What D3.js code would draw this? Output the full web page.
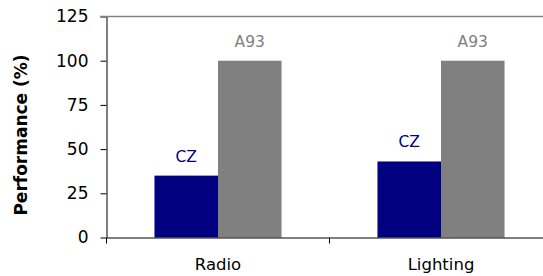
<!DOCTYPE html>
<html>
<head>
<meta charset="utf-8">
<script src="https://cdn.jsdelivr.net/npm/d3@7"></script>
<style>
  body { margin: 0; background: #fff; }
  svg { display: block; font-family: "DejaVu Sans", Verdana, sans-serif; }
</style>
</head>
<body>
<svg id="chart" width="543" height="276"></svg>
<script>
// values
var categories = ["Radio", "Lighting"];
var seriesNames = ["CZ", "A93"];
var czValues = [35, 43];
var a93Values = [100, 100];
var yTicks = [0, 25, 50, 75, 100, 125];

var colors = { CZ: "#000080", A93: "#808080" };
var font = "DejaVu Sans";

var rows = categories.map(function(c, i) {
  return { cat: c, vals: [
    { name: "CZ", v: czValues[i] },
    { name: "A93", v: a93Values[i] }
  ] };
});

var svg = d3.select("#chart");

var x0 = d3.scaleBand().domain(categories).range([106.5, 552.5]).paddingInner(0).paddingOuter(0);
var x1 = d3.scaleBand().domain(seriesNames).range([0, x0.bandwidth()]).paddingInner(0).paddingOuter(0.755);
var y = d3.scaleLinear().domain([0, 125]).range([237.5, 16.5]);

// bars
var groups = svg.append("g").selectAll("g")
  .data(rows)
  .enter().append("g")
  .attr("transform", function(d) { return "translate(" + x0(d.cat) + ",0)"; });

groups.selectAll("rect")
  .data(function(d) { return d.vals; })
  .enter().append("rect")
  .attr("x", function(d) { return x1(d.name); })
  .attr("y", function(d) { return y(d.v); })
  .attr("width", x1.bandwidth())
  .attr("height", function(d) { return y(0) - y(d.v); })
  .attr("fill", function(d) { return colors[d.name]; });

groups.selectAll("text")
  .data(function(d) { return d.vals; })
  .enter().append("text")
  .attr("x", function(d) { return x1(d.name) + x1.bandwidth() / 2; })
  .attr("y", function(d) { return y(d.v) - 14; })
  .attr("text-anchor", "middle")
  .attr("font-size", 15.5)
  .attr("fill", function(d) { return colors[d.name]; })
  .text(function(d) { return d.name; });

// y axis
var yAxis = svg.append("g")
  .attr("transform", "translate(106.5,0)")
  .call(d3.axisLeft(y).tickValues(yTicks).tickSize(6).tickSizeOuter(0).tickPadding(12));
yAxis.attr("font-family", font).attr("font-size", 17);
yAxis.selectAll("text").attr("fill", "#000");
yAxis.selectAll("line, path").attr("stroke", "#000");

// top line at 125
svg.append("line")
  .attr("x1", 100).attr("x2", 552)
  .attr("y1", y(125)).attr("y2", y(125))
  .attr("stroke", "#808080").attr("stroke-width", 1.5);

// x axis
var xAxis = svg.append("g")
  .attr("transform", "translate(0,237.5)")
  .call(d3.axisBottom(x0).tickSize(0).tickSizeOuter(0).tickPadding(0));
xAxis.attr("font-family", font).attr("font-size", 16.5);
xAxis.select(".domain").attr("stroke", "#000");
xAxis.selectAll("text")
  .attr("fill", "#000")
  .attr("dy", null).attr("y", 32);

// category boundary ticks
svg.append("g").selectAll("line")
  .data(categories.concat(["end"]))
  .enter().append("line")
  .attr("x1", function(d, i) { return i < categories.length ? x0(d) : x0.range()[1]; })
  .attr("x2", function(d, i) { return i < categories.length ? x0(d) : x0.range()[1]; })
  .attr("y1", 237.5).attr("y2", 243.5)
  .attr("stroke", "#000");

// y title
svg.append("text")
  .attr("transform", "translate(27,135) rotate(-90)")
  .attr("text-anchor", "middle")
  .attr("font-size", 17)
  .attr("font-weight", "bold")
  .text("Performance (%)");
</script>
</body>
</html>
